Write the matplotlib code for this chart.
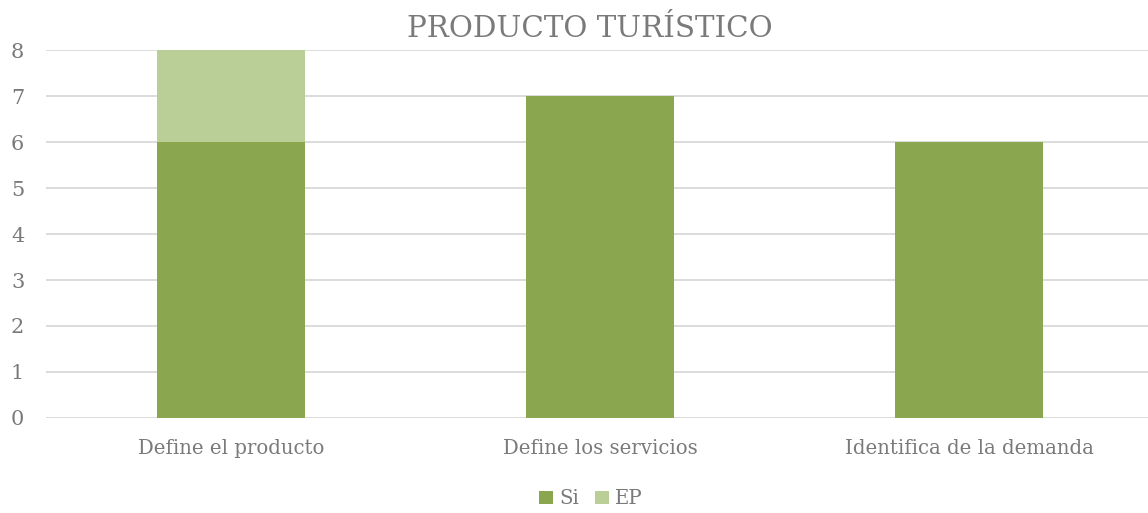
import matplotlib
matplotlib.use('Agg')
import matplotlib.pyplot as plt
import numpy as np

# dados
categorias = ['Define el producto', 'Define los servicios', 'Identifica de la demanda']
si = [6, 7, 6]
ep = [2, 0, 0]

VERDE = '#8AA64F'
CLARO = '#BACF98'
GRID = '#D9D9D9'
TEXTO = '#7A7A7A'

plt.rcParams['font.family'] = ['DejaVu Serif']

fig = plt.figure(figsize=(11.48, 5.13), dpi=100)
ax = fig.add_axes([0.0405, 0.1852, 0.9643, 0.7173])
ax.set_axisbelow(True)

x = np.arange(len(categorias))
ax.bar(x, si, width=0.4, color=VERDE, label='Si', zorder=3)
ax.bar(x, ep, width=0.4, bottom=si, color=CLARO, label='EP', zorder=3)

ax.set_xlim(-0.5, len(categorias) - 0.5)
ax.set_ylim(0, 8)
ax.set_yticks(range(0, 9))
ax.yaxis.grid(True, color=GRID, linewidth=1.3)
ax.set_xticks(x)
ax.set_xticklabels(categorias)
ax.tick_params(axis='both', length=0, colors=TEXTO, labelsize=14.2)
ax.tick_params(axis='x', pad=15)
ax.tick_params(axis='y', pad=16, labelsize=15)
for s in ax.spines.values():
    s.set_visible(False)

fig.text(0.514, 0.943, 'PRODUCTO TURÍSTICO', ha='center', va='center',
         fontsize=21.2, color=TEXTO)

ax.legend(loc='center', bbox_to_anchor=(0.5 - 0.0405 / 2 + 0.012, -0.22), ncol=2, frameon=False,
          fontsize=14.2, labelcolor=TEXTO, handlelength=0.7, handleheight=0.7,
          handletextpad=0.3, columnspacing=0.8)

fig.savefig('out.png', dpi=100, facecolor='white')
